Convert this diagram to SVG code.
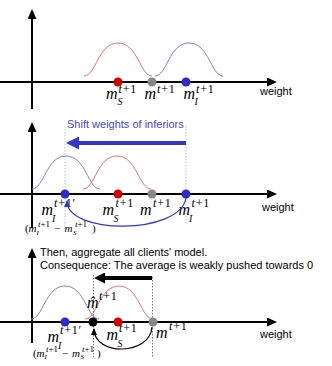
<svg xmlns="http://www.w3.org/2000/svg" width="332" height="366" viewBox="0 0 332 366">
<style>
.ax{stroke:#000;stroke-width:2;fill:none}
.rb{fill:none;stroke:#f06a6a;stroke-width:1}
.bb{fill:none;stroke:#7a7af0;stroke-width:1}
.mi{font:italic 16px 'Liberation Serif',serif}
.sp{font:12px 'Liberation Serif',serif;letter-spacing:0.8px}
.sb{font:italic 10px 'Liberation Serif',serif}
.i{font-style:italic}
.sm{font:italic 11px 'Liberation Serif',serif}
.ssp{font:9px 'Liberation Serif',serif}
.ssb{font:italic 7px 'Liberation Serif',serif}
.pn{font:11px 'Liberation Serif',serif}
.sans{font:11px 'Liberation Sans',Arial,sans-serif}
.red{fill:#d40000}.blue{fill:#2a2acf}.gray{fill:#888}.blk{fill:#000}
.dotb{stroke:#9cc8ee;stroke-width:1;stroke-dasharray:1.5 1.5}
.dotg{stroke:#777;stroke-width:1;stroke-dasharray:1.5 1.5}
</style>
<defs>
<path id="bell" d="M-34,0 C-22,0 -20,-33 0,-33 S22,0 34,0"/>
<marker id="ah" viewBox="0 0 10 9" refX="1" refY="4.5" markerWidth="10" markerHeight="9" markerUnits="userSpaceOnUse" orient="auto"><path d="M0,0 L10,4.5 L0,9z" fill="#000"/></marker>
<marker id="bigB" viewBox="0 0 13 13" refX="1" refY="6.5" markerWidth="13" markerHeight="13" markerUnits="userSpaceOnUse" orient="auto"><path d="M0,0 L13,6.5 L0,13z" fill="#3535cc"/></marker>
<marker id="bigK" viewBox="0 0 11 11" refX="1" refY="5.5" markerWidth="11" markerHeight="11" markerUnits="userSpaceOnUse" orient="auto"><path d="M0,0 L11,5.5 L0,11z" fill="#000"/></marker>
<marker id="smB" viewBox="0 0 7 6" refX="6" refY="3" markerWidth="7" markerHeight="6" markerUnits="userSpaceOnUse" orient="auto"><path d="M0,0 L7,3 L0,6z" fill="#3535cc"/></marker>
<marker id="smK" viewBox="0 0 7 6" refX="6" refY="3" markerWidth="7" markerHeight="6" markerUnits="userSpaceOnUse" orient="auto"><path d="M0,0 L7,3 L0,6z" fill="#000"/></marker>
</defs>

<!-- Panel 1 -->
<g id="panel1">
<line class="ax" x1="0" y1="82" x2="268" y2="82" marker-end="url(#ah)"/>
<line class="ax" x1="32" y1="109" x2="32" y2="18" marker-end="url(#ah)"/>
<use href="#bell" class="rb" x="118" y="76"/>
<use href="#bell" class="bb" x="189" y="76"/>
<g id="p1-mS"><circle class="red" cx="118" cy="82" r="4.5"/>
<text class="mi" x="106" y="99">m</text><text class="sp" x="118.5" y="93"><tspan class="i">t</tspan>+1</text><text class="sb" x="117.5" y="105">S</text></g>
<g id="p1-m"><circle class="gray" cx="152" cy="82" r="4.5"/>
<text class="mi" x="144.5" y="99">m</text><text class="sp" x="157" y="93"><tspan class="i">t</tspan>+1</text></g>
<g id="p1-mI"><circle class="blue" cx="186" cy="82" r="4.5"/>
<text class="mi" x="183.5" y="99">m</text><text class="sp" x="196" y="93"><tspan class="i">t</tspan>+1</text><text class="sb" x="194.5" y="105">I</text></g>
<text class="sans" x="260" y="95">weight</text>
</g>

<!-- Panel 2 -->
<g id="panel2">
<line class="dotb" x1="65" y1="126" x2="65" y2="229"/>
<line class="dotb" x1="186" y1="126" x2="186" y2="224"/>
<line class="ax" x1="0" y1="194" x2="268" y2="194" marker-end="url(#ah)"/>
<line class="ax" x1="32" y1="228" x2="32" y2="131" marker-end="url(#ah)"/>
<use href="#bell" class="bb" x="66" y="189"/>
<use href="#bell" class="rb" x="117" y="189"/>
<text class="sans" x="67" y="128" fill="#4646d4">Shift weights of inferiors</text>
<g id="p2-mIp"><circle class="blue" cx="65" cy="194" r="4.5"/>
<text class="mi" x="41.5" y="215">m</text><text class="sp" x="54" y="207"><tspan class="i">t</tspan>+1′</text><text class="sb" x="52" y="222">I</text></g>
<g id="p2-mS"><circle class="red" cx="118" cy="194" r="4.5"/>
<text class="mi" x="102.5" y="215">m</text><text class="sp" x="115.5" y="207"><tspan class="i">t</tspan>+1</text><text class="sb" x="113.5" y="222">S</text></g>
<g id="p2-m"><circle class="gray" cx="152" cy="194" r="4.5"/>
<text class="mi" x="140" y="215">m</text><text class="sp" x="153" y="207"><tspan class="i">t</tspan>+1</text></g>
<g id="p2-mI"><circle class="blue" cx="186" cy="194" r="4.5"/>
<text class="mi" x="178.5" y="215">m</text><text class="sp" x="191.5" y="207"><tspan class="i">t</tspan>+1</text><text class="sb" x="189" y="222">I</text></g>
<g id="p2-diff">
<text class="pn" x="25" y="232">(</text>
<text class="sm" x="28.5" y="232">m</text><text class="ssp" x="38" y="227"><tspan class="i">t</tspan>+1</text><text class="ssb" x="36.5" y="234.5">I</text>
<text class="pn" x="54" y="232">−</text>
<text class="sm" x="64.5" y="232">m</text><text class="ssp" x="75" y="227"><tspan class="i">t</tspan>+1</text><text class="ssb" x="73" y="234.5">S</text>
<text class="pn" x="92" y="232">)</text>
</g>
<text class="sans" x="262" y="211">weight</text>
</g>

<!-- Panel 3 -->
<g id="panel3">
<line class="dotg" x1="93.5" y1="275" x2="93.5" y2="357"/>
<line class="dotg" x1="152.5" y1="277" x2="152.5" y2="357"/>
<line class="ax" x1="0" y1="322" x2="268" y2="322" marker-end="url(#ah)"/>
<line class="ax" x1="32" y1="343" x2="32" y2="257" marker-end="url(#ah)"/>
<use href="#bell" class="bb" x="65" y="319"/>
<use href="#bell" class="rb" x="119" y="319"/>
<text class="sans" x="40" y="256">Then, aggregate all clients' model.</text>
<text class="sans" x="40" y="269">Consequence: The average is weakly pushed towards 0</text>
<g id="p3-mIp"><circle class="blue" cx="65" cy="322" r="4.5"/>
<text class="mi" x="47.5" y="342">m</text><text class="sp" x="60" y="334"><tspan class="i">t</tspan>+1′</text><text class="sb" x="58" y="349">I</text></g>
<g id="p3-mhat"><circle class="blk" cx="93" cy="322" r="4.5"/>
<text class="mi" x="87" y="308">m̂</text><text class="sp" x="99" y="300"><tspan class="i">t</tspan>+1</text></g>
<g id="p3-mS"><circle class="red" cx="118" cy="322" r="4.5"/>
<text class="mi" x="106.5" y="340">m</text><text class="sp" x="119" y="332"><tspan class="i">t</tspan>+1</text><text class="sb" x="117.5" y="347">S</text></g>
<g id="p3-m"><circle class="gray" cx="153" cy="322" r="4.5"/>
<text class="mi" x="156" y="338">m</text><text class="sp" x="169" y="330"><tspan class="i">t</tspan>+1</text></g>
<g id="p3-diff">
<text class="pn" x="33" y="356.5">(</text>
<text class="sm" x="36.5" y="356.5">m</text><text class="ssp" x="46" y="351.5"><tspan class="i">t</tspan>+1</text><text class="ssb" x="44.5" y="359">I</text>
<text class="pn" x="62" y="356.5">−</text>
<text class="sm" x="72" y="356.5">m</text><text class="ssp" x="82" y="351.5"><tspan class="i">t</tspan>+1</text><text class="ssb" x="80.5" y="359">S</text>
<text class="pn" x="97" y="356.5">)</text>
</g>
<text class="sans" x="260" y="338">weight</text>
</g>

<!-- Connectors -->
<g id="connectors">
<line x1="186" y1="143" x2="78" y2="143" stroke="#3535cc" stroke-width="4" marker-end="url(#bigB)"/>
<path d="M186,198 C180,235 67,235 67,201" fill="none" stroke="#3535cc" stroke-width="1.2" marker-end="url(#smB)"/>
<line x1="152" y1="278" x2="104" y2="278" stroke="#000" stroke-width="4" marker-end="url(#bigK)"/>
<path d="M152,327 C150,356 94,356 94,329" fill="none" stroke="#000" stroke-width="1.2" marker-end="url(#smK)"/>
</g>
</svg>
